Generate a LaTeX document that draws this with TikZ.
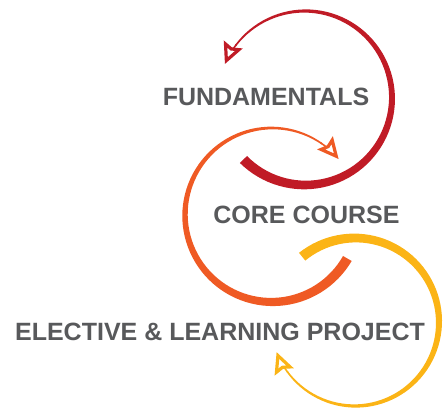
\documentclass[tikz,border=0pt]{standalone}
\usepackage{fontspec}
\setmainfont{Liberation Sans}
\usetikzlibrary{arrows.meta}
\definecolor{CRed}{HTML}{C01B26}
\definecolor{COrange}{HTML}{EF5A24}
\definecolor{CYellow}{HTML}{FBB416}
\definecolor{CGrayText}{HTML}{58595B}

\begin{document}
\begin{tikzpicture}[x=1pt, y=1pt,
    step label/.style={font=\fontsize{25}{30}\selectfont\bfseries, text=CGrayText, inner sep=0pt},
    tip head/.style={line width=1.6pt, -{Stealth[length=21pt, width=20pt, inset=3pt, line width=3.2pt, fill=white]}}]
  \useasboundingbox (0,0) rectangle (444,409);
  % Centres of the three swirls
  \coordinate (RedC) at (305,311);
  \coordinate (OrangeC) at (272,194);
  \coordinate (YellowC) at (355,87);
  % Red swirl
  \fill[CRed] plot[domain=-135:143, samples=80, variable=\t]
      ({305+(87+5-4.2*(\t+135)/278)*cos(\t)}, {311+(87+5-4.2*(\t+135)/278)*sin(\t)})
    -- plot[domain=143:-135, samples=80, variable=\t]
      ({305+(87-5+4.2*(\t+135)/278)*cos(\t)}, {311+(87-5+4.2*(\t+135)/278)*sin(\t)}) -- cycle;
  \draw[CRed, tip head] (RedC) ++(142:87) arc[start angle=142, end angle=157, radius=87]; % Head
  % Orange swirl
  \fill[COrange] plot[domain=-30:-305, samples=80, variable=\t]
      ({272+(87+5-4.2*(-30-\t)/275)*cos(\t)}, {194+(87+5-4.2*(-30-\t)/275)*sin(\t)})
    -- plot[domain=-305:-30, samples=80, variable=\t]
      ({272+(87-5+4.2*(-30-\t)/275)*cos(\t)}, {194+(87-5+4.2*(-30-\t)/275)*sin(\t)}) -- cycle;
  \draw[COrange, tip head] (OrangeC) ++(-304:87) arc[start angle=-304, end angle=-320, radius=87]; % Head
  % Yellow swirl
  \fill[CYellow] plot[domain=129:-144, samples=80, variable=\t]
      ({355+(84+5-4.2*(129-\t)/273)*cos(\t)}, {87+(84+5-4.2*(129-\t)/273)*sin(\t)})
    -- plot[domain=-144:129, samples=80, variable=\t]
      ({355+(84-5+4.2*(129-\t)/273)*cos(\t)}, {87+(84-5+4.2*(129-\t)/273)*sin(\t)}) -- cycle;
  \draw[CYellow, tip head] (YellowC) ++(-143:84) arc[start angle=-143, end angle=-159, radius=84]; % Head
  % Labels
  \node[step label] (fund) at (266,312.5) {FUNDAMENTALS};
  \node[step label] (core) at (306.5,194) {CORE COURSE};
  \node[step label] (elect) at (220,77) {ELECTIVE \& LEARNING PROJECT};
\end{tikzpicture}
\end{document}
